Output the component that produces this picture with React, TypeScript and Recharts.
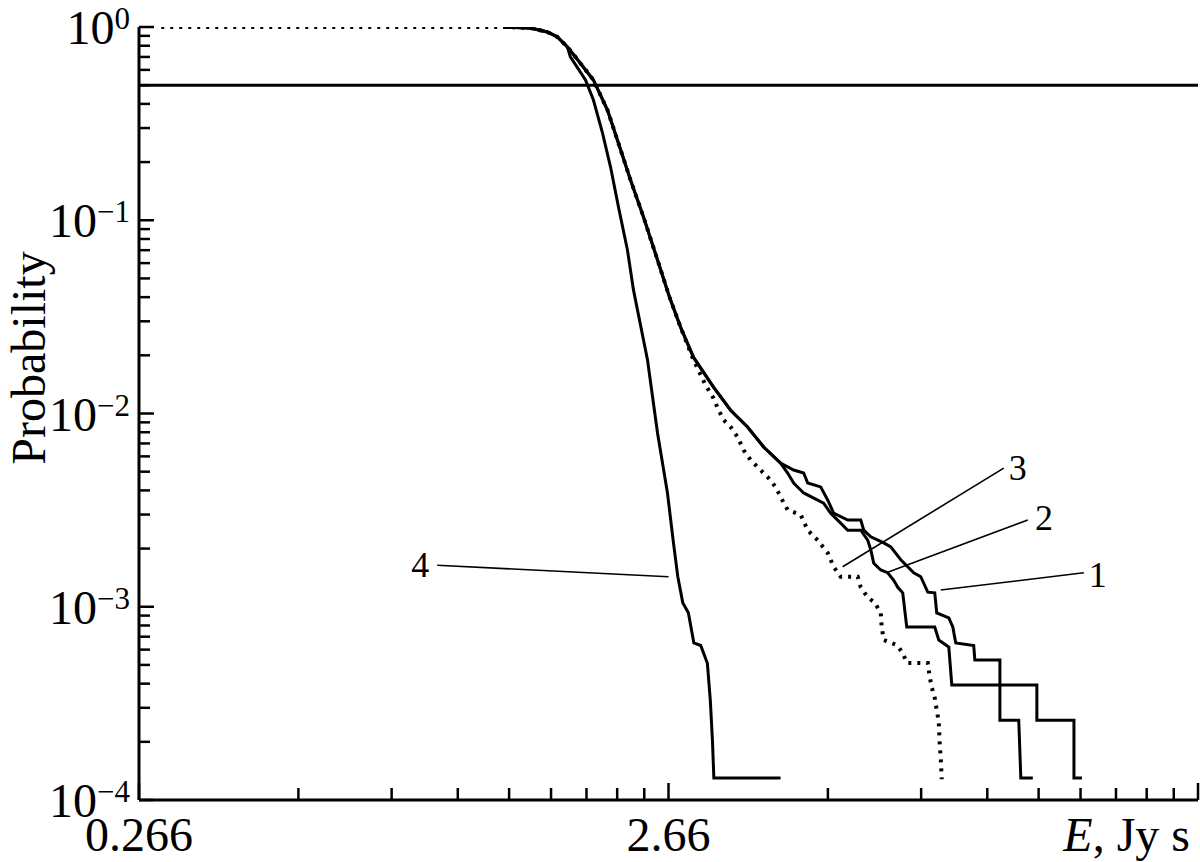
import React from 'react';
import { LineChart, Line, XAxis, YAxis, ReferenceLine, ReferenceDot, Label } from 'recharts';

const SERIF = '"Liberation Serif", "Times New Roman", serif';

// axis decades
const xMajor = [0.266, 2.66, 26.6];
const xMajorLabels = ['0.266', '2.66', ''];
const yMajor = [1, 0.1, 0.01, 0.001, 0.0001];
const yMajorExp = ['0', '\u22121', '\u22122', '\u22123', '\u22124'];
const minorSteps = [2, 3, 4, 5, 6, 7, 8, 9];
const medianLevel = 0.5;

// curve 1
const curve1E = [1.297, 1.459, 1.571, 1.641, 1.714, 1.775, 1.919, 2.04, 2.13, 2.255, 2.386, 2.536, 2.671, 2.803, 2.966, 3.235, 3.485, 3.751, 4.023, 4.33,
  4.584, 4.788, 4.873, 5.155, 5.315, 5.455, 5.799, 6.137, 6.217, 6.411, 6.783, 6.993, 7.304, 7.727, 7.967, 8.214, 8.467, 8.541, 9.0, 9.158,
  9.276, 10.03, 10.08, 11.24, 11.24, 12.2, 12.31, 12.97];
const curve1P = [1, 0.988, 0.942, 0.888, 0.788, 0.7, 0.532, 0.372, 0.26, 0.1616, 0.104, 0.0623, 0.0401, 0.028, 0.0195, 0.0137, 0.0104, 0.00851, 0.00671, 0.00554,
  0.0051, 0.00492, 0.00437, 0.00417, 0.00357, 0.00305, 0.00281, 0.00281, 0.00249, 0.0023, 0.00214, 0.00204, 0.00175, 0.0015, 0.00143, 0.00119, 0.00118, 0.000929, 0.000875, 0.000786,
  0.000649, 0.00063, 0.00053, 0.00053, 0.000259, 0.000259, 0.00013, 0.00013];

// curve 2
const curve2E = [1.297, 1.459, 1.571, 1.641, 1.714, 1.775, 1.919, 2.04, 2.13, 2.255, 2.386, 2.536, 2.671, 2.803, 2.966, 3.235, 3.485, 3.751, 4.023, 4.33,
  4.466, 4.584, 4.788, 5.222, 5.384, 5.624, 5.799, 6.137, 6.326, 6.411, 6.494, 6.695, 6.9, 7.083, 7.209, 7.366, 7.496, 8.467, 8.616, 9.0,
  9.118, 13.2, 13.2, 15.51, 15.51, 16.06];
const curve2P = [1, 0.988, 0.942, 0.888, 0.788, 0.7, 0.532, 0.372, 0.26, 0.1616, 0.104, 0.0623, 0.0401, 0.028, 0.0195, 0.0137, 0.0104, 0.00851, 0.00671, 0.00554,
  0.00492, 0.00437, 0.00388, 0.00344, 0.00305, 0.00271, 0.00249, 0.00249, 0.00221, 0.00197, 0.00168, 0.00155, 0.0015, 0.00137, 0.00126, 0.00118, 0.000786, 0.000786, 0.000673, 0.000619,
  0.000394, 0.000394, 0.000259, 0.000259, 0.00013, 0.00013];

// curve 3 (dotted)
const curve3E = [0.293, 1.297, 1.459, 1.571, 1.641, 1.714, 1.775, 1.919, 2.04, 2.13, 2.255, 2.386, 2.536, 2.671, 2.803, 2.966, 3.125, 3.235, 3.307, 3.381,
  3.485, 3.591, 3.687, 3.801, 3.918, 4.094, 4.238, 4.33, 4.466, 4.727, 4.873, 5.089, 5.315, 5.455, 5.624, 6.057, 6.137, 6.326, 6.522, 6.695,
  6.722, 6.783, 7.177, 7.366, 7.496, 8.214, 8.284, 8.357, 8.467, 8.541, 8.616, 8.653, 8.69, 8.727];
const curve3P = [1, 1, 0.988, 0.942, 0.888, 0.788, 0.7, 0.532, 0.372, 0.26, 0.1616, 0.104, 0.0623, 0.0401, 0.028, 0.0189, 0.01404, 0.012, 0.01043, 0.00926,
  0.00851, 0.00756, 0.00647, 0.00575, 0.00528, 0.00469, 0.00417, 0.0037, 0.00317, 0.00299, 0.00249, 0.00221, 0.0019, 0.00161, 0.00143, 0.00143, 0.00126, 0.00112, 0.00105, 0.000929,
  0.000786, 0.000673, 0.000634, 0.000577, 0.000512, 0.000512, 0.000433, 0.000384, 0.000337, 0.000292, 0.000253, 0.000193, 0.000165, 0.000128];

// curve 4
const curve4E = [1.297, 1.459, 1.571, 1.641, 1.714, 1.736, 1.854, 1.919, 1.996, 2.067, 2.14, 2.225, 2.284, 2.428, 2.536, 2.648, 2.718, 2.77, 2.83, 2.9,
  2.97, 3.06, 3.15, 3.19, 3.22, 3.24, 4.33];
const curve4P = [1, 0.988, 0.942, 0.888, 0.788, 0.7, 0.532, 0.419, 0.283, 0.189, 0.117, 0.0702, 0.0436, 0.0189, 0.00792, 0.00388, 0.00214, 0.00143, 0.00105, 0.00093,
  0.00065, 0.00063, 0.00051, 0.00033, 0.000204, 0.00013, 0.00013];

// curve labels: text position and leader line (curve end)
const noteNames = ['1', '2', '3', '4'];
const noteTextE = [17.21, 13.61, 12.15, 0.904];
const noteTextP = [1.46e-3, 2.88e-3, 5.22e-3, 1.64e-3];
const noteFromE = [16.19, 12.69, 11.43, 0.973];
const noteFromP = [1.5e-3, 2.81e-3, 5.22e-3, 1.64e-3];
const noteToE = [8.69, 6.9, 5.674, 2.66];
const noteToP = [1.22e-3, 1.51e-3, 1.61e-3, 1.43e-3];

const xTicks = [...xMajor, ...xMajor.slice(0, 2).flatMap((b) => minorSteps.map((m) => +(b * m).toPrecision(4)))].sort((a, b) => a - b);
const yTicks = [...yMajor, ...yMajor.slice(1).flatMap((b) => minorSteps.map((m) => +(b * m).toPrecision(4)))].sort((a, b) => a - b);

const rows = (e: number[], p: number[]) => e.map((v, i) => ({ e: v, p: p[i] }));

const XTick = ({ x, y, payload }: any) => {
  const i = xMajor.indexOf(payload.value);
  const major = i >= 0;
  return (
    <g>
      <line x1={x} y1={y} x2={x} y2={y - (major ? 17 : 12)} stroke="#000" strokeWidth={2.5} />
      {major && xMajorLabels[i] && (
        <text x={x} y={y + 51} textAnchor="middle" fontFamily={SERIF} fontSize={48} fill="#000">
          {xMajorLabels[i]}
        </text>
      )}
    </g>
  );
};

const YTick = ({ x, y, payload }: any) => {
  const i = yMajor.indexOf(payload.value);
  const major = i >= 0;
  return (
    <g>
      <line x1={x} y1={y} x2={x + (major ? 15 : 11)} y2={y} stroke="#000" strokeWidth={2.5} />
      {major && (
        <text x={x - 9} y={y + 17} textAnchor="end" fontFamily={SERIF} fill="#000">
          <tspan fontSize={48}>10</tspan>
          <tspan fontSize={31} dy={-15}>{yMajorExp[i]}</tspan>
        </text>
      )}
    </g>
  );
};

export default function App() {
  return (
    <div style={{ position: 'absolute', left: 0, top: 0, width: 1200, height: 862, background: '#fff' }}>
      <LineChart width={1200} height={862} margin={{ top: 27, right: 2, bottom: 0, left: 0 }}>
        <XAxis
          type="number"
          dataKey="e"
          scale="log"
          domain={[0.266, 26.6]}
          allowDataOverflow
          ticks={xTicks}
          interval={0}
          height={62}
          tickSize={0}
          tickMargin={0}
          tickLine={false}
          tick={<XTick />}
          axisLine={{ stroke: '#000', strokeWidth: 3 }}
        >
          <Label
            content={({ viewBox }: any) => (
              <text x={viewBox.x + viewBox.width - 8} y={viewBox.y + 51} textAnchor="end" fontFamily={SERIF} fontSize={48} fill="#000">
                <tspan fontStyle="italic">E</tspan>, Jy s
              </text>
            )}
          />
        </XAxis>
        <YAxis
          type="number"
          dataKey="p"
          scale="log"
          domain={[0.0001, 1]}
          allowDataOverflow
          ticks={yTicks}
          interval={0}
          width={139}
          tickSize={0}
          tickMargin={0}
          tickLine={false}
          tick={<YTick />}
          axisLine={{ stroke: '#000', strokeWidth: 3 }}
        >
          <Label
            content={() => (
              <text transform="translate(45,358) rotate(-90)" textAnchor="middle" fontFamily={SERIF} fontSize={48} fill="#000">
                Probability
              </text>
            )}
          />
        </YAxis>

        <ReferenceLine y={medianLevel} stroke="#000" strokeWidth={3} />

        <Line data={rows(curve3E, curve3P)} dataKey="p" type="linear" dot={false} stroke="#000" strokeWidth={4} strokeDasharray="3 6" isAnimationActive={false} />
        <Line data={rows(curve1E, curve1P)} dataKey="p" type="linear" dot={false} stroke="#000" strokeWidth={3} isAnimationActive={false} />
        <Line data={rows(curve2E, curve2P)} dataKey="p" type="linear" dot={false} stroke="#000" strokeWidth={3} isAnimationActive={false} />
        <Line data={rows(curve4E, curve4P)} dataKey="p" type="linear" dot={false} stroke="#000" strokeWidth={3} isAnimationActive={false} />

        {noteNames.map((n, i) => (
          <ReferenceLine
            key={'l' + n}
            segment={[{ x: noteFromE[i], y: noteFromP[i] }, { x: noteToE[i], y: noteToP[i] }]}
            stroke="#000"
            strokeWidth={1.6}
          />
        ))}
        {noteNames.map((n, i) => (
          <ReferenceDot
            key={'t' + n}
            x={noteTextE[i]}
            y={noteTextP[i]}
            r={0}
            shape={(p: any) => (
              <text x={p.cx} y={p.cy + 12} textAnchor="middle" fontFamily={SERIF} fontSize={36} fill="#000">
                {n}
              </text>
            )}
          />
        ))}
      </LineChart>
    </div>
  );
}
